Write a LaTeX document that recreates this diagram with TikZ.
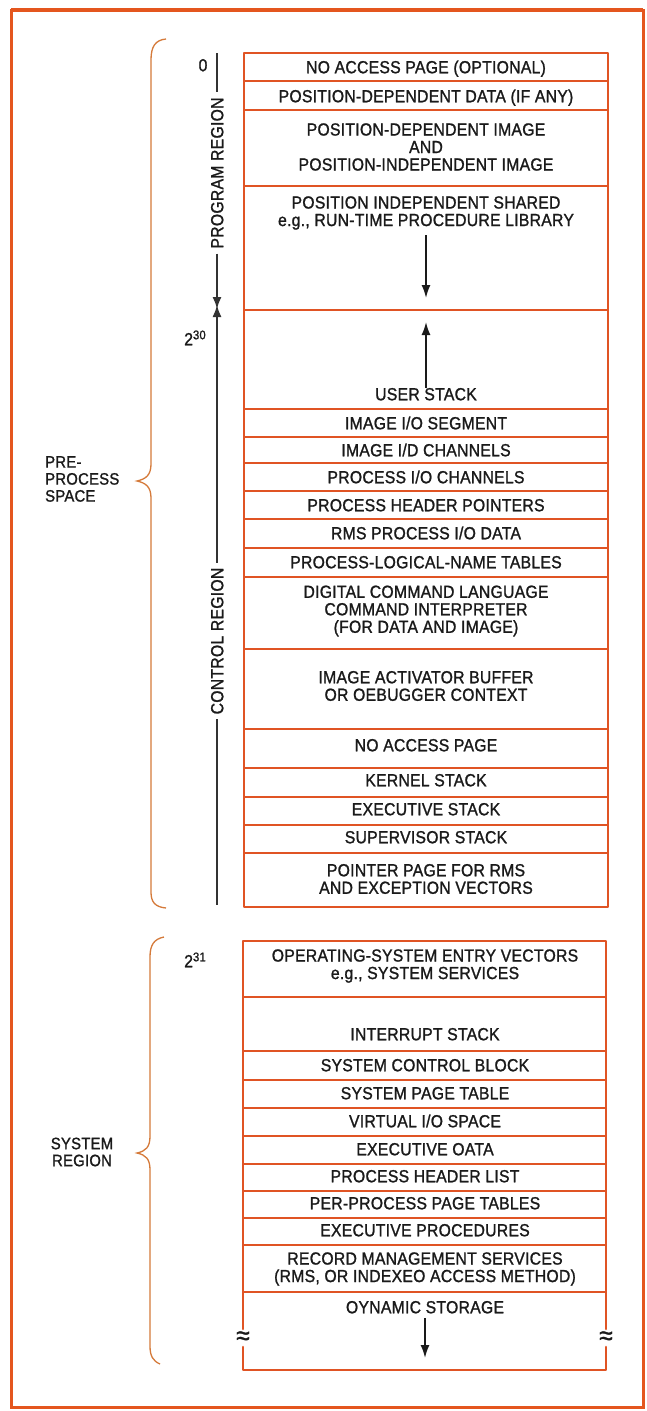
\documentclass[tikz,border=0pt]{standalone}
\usepackage{fontspec}
\setmainfont{Liberation Sans}[FakeStretch=0.9,FakeBold=1.2,LetterSpace=1.5]
\usetikzlibrary{arrows.meta}
\definecolor{framec}{HTML}{E4561E}
\definecolor{boxc}{HTML}{E05424}
\definecolor{bracec}{HTML}{D57A3A}
\definecolor{ink}{HTML}{1A1A1A}
\definecolor{axisc}{HTML}{333333}
\tikzset{
  lbl/.style={text=ink,font=\fontsize{17.5}{17.5}\selectfont,inner sep=0pt,text height=12.5pt,text depth=0pt},
  mlbl/.style={text=ink,font=\fontsize{17.5}{17.5}\selectfont,inner sep=0pt,align=center},
  sidelbl/.style={text=ink,font=\fontsize{16.5}{17}\selectfont,inner sep=0pt},
  rlbl/.style={lbl,rotate=90,outer sep=5pt},
  breakmark/.style={text=ink,inner sep=0pt,font=\fontsize{27}{27}\selectfont},
  divider/.style={draw=boxc,line width=1.8pt},
  boxedge/.style={draw=boxc,line width=2.6pt,line cap=round,line join=round},
  framebox/.style={draw=framec,line width=3pt},
  bracepath/.style={draw=bracec,line width=1.3pt},
  axisline/.style={draw=axisc,line width=1.6pt},
  arr/.style={draw=ink,line width=1.7pt,-{Latex[length=13pt,width=9pt]}},
  axarr/.style={axisline,-{Latex[length=12pt,width=9pt]}},
}
\begin{document}
\begin{tikzpicture}[x=1pt,y=-1pt]
\useasboundingbox (0,0) rectangle (646,1411);
\fill[white] (0,0) rectangle (646,1411);
% outer frame
\draw[framebox] (11,10) rectangle (643,1407);
\draw[draw=framec,line width=4pt] (11,10) -- (643,10);

% ---------- upper box ----------
\foreach \y in {81,110,186,310,409,437,463,491,519,548,577,649,729,768,797,825,853}
  \draw[divider] (244,\y) -- (608,\y);
\draw[boxedge] (244,53) rectangle (608,907);

\node[lbl] (t1) at (426,67) {NO ACCESS PAGE (OPTIONAL)};
\node[lbl] (t2) at (426,96) {POSITION-DEPENDENT DATA (IF ANY)};
\node[mlbl] (t3) at (426,147) {POSITION-DEPENDENT IMAGE\\AND\\POSITION-INDEPENDENT IMAGE};
\node[mlbl] (t4) at (426,213) {POSITION INDEPENDENT SHARED\\e.g., RUN-TIME PROCEDURE LIBRARY};
\node[lbl] (t5) at (426,394) {USER STACK};
\node[lbl] (t6) at (426,423) {IMAGE I/O SEGMENT};
\node[lbl] (t7) at (426,450) {IMAGE I/D CHANNELS};
\node[lbl] (t8) at (426,477) {PROCESS I/O CHANNELS};
\node[lbl] (t9) at (426,505) {PROCESS HEADER POINTERS};
\node[lbl] (t10) at (426,533) {RMS PROCESS I/O DATA};
\node[lbl] (t11) at (426,562) {PROCESS-LOGICAL-NAME TABLES};
\node[mlbl] (t12) at (426,611) {DIGITAL COMMAND LANGUAGE\\COMMAND INTERPRETER\\(FOR DATA AND IMAGE)};
\node[mlbl] (t13) at (426,686) {IMAGE ACTIVATOR BUFFER\\OR OEBUGGER CONTEXT};
\node[lbl] (t14) at (426,745) {NO ACCESS PAGE};
\node[lbl] (t15) at (426,780) {KERNEL STACK};
\node[lbl] (t16) at (426,809) {EXECUTIVE STACK};
\node[lbl] (t17) at (426,837) {SUPERVISOR STACK};
\node[mlbl] (t18) at (426,879) {POINTER PAGE FOR RMS\\AND EXCEPTION VECTORS};

\coordinate (a1s) at (426,235);
\coordinate (a1e) at (426,298);
\draw[arr] (a1s) -- (a1e);
\coordinate (a2e) at (426,322);
\draw[arr] (t5.north) -- (a2e);

% ---------- lower box ----------
\foreach \y in {997,1051,1080,1108,1136,1164,1191,1218,1245,1292}
  \draw[divider] (243,\y) -- (606,\y);
\draw[boxedge] (243,1329) -- (243,941) -- (606,941) -- (606,1329);
\draw[boxedge] (243,1347) -- (243,1370) -- (606,1370) -- (606,1347);
\node[breakmark] (brL) at (243,1338) {≈};
\node[breakmark] (brR) at (606,1338) {≈};

\node[mlbl] (s1) at (425,966) {OPERATING-SYSTEM ENTRY VECTORS\\e.g., SYSTEM SERVICES};
\node[lbl] (s2) at (425,1034) {INTERRUPT STACK};
\node[lbl] (s3) at (425,1065) {SYSTEM CONTROL BLOCK};
\node[lbl] (s4) at (425,1093) {SYSTEM PAGE TABLE};
\node[lbl] (s5) at (425,1121) {VIRTUAL I/O SPACE};
\node[lbl] (s6) at (425,1149) {EXECUTIVE OATA};
\node[lbl] (s7) at (425,1176) {PROCESS HEADER LIST};
\node[lbl] (s8) at (425,1203) {PER-PROCESS PAGE TABLES};
\node[lbl] (s9) at (425,1230) {EXECUTIVE PROCEDURES};
\node[mlbl] (s10) at (425,1269) {RECORD MANAGEMENT SERVICES\\(RMS, OR INDEXEO ACCESS METHOD)};
\node[lbl] (s11) at (425,1307) {OYNAMIC STORAGE};
\coordinate (a3s) at (425,1318);
\coordinate (a3e) at (425,1358);
\draw[arr] (a3s) -- (a3e);

% ---------- left axis ----------
\node[lbl] (zero) at (203,65) {0};
\node[lbl] (p30) at (195,339) {2\raisebox{6pt}{\fontsize{12.5}{12.5}\selectfont 30}};
\node[lbl] (p31) at (195,961) {2\raisebox{6pt}{\fontsize{12.5}{12.5}\selectfont 31}};
\node[rlbl] (prog) at (217,173) {PROGRAM REGION};
\node[rlbl] (ctrl) at (217,641) {CONTROL REGION};
\coordinate (axtop) at (217,53);
\coordinate (axmidA) at (217,309);
\coordinate (axmidB) at (217,305);
\coordinate (axbot) at (217,905);
\draw[axisline] (axtop) -- (prog.east);
\draw[axarr] (prog.west) -- (axmidA);
\draw[axarr] (ctrl.east) -- (axmidB);
\draw[axisline] (ctrl.west) -- (axbot);

% ---------- braces ----------
\draw[bracepath] (166,39) .. controls (155,40) and (151,47) .. (151,60)
  -- (151,464) .. controls (151,475) and (146,479) .. (137,481)
  .. controls (146,483) and (151,487) .. (151,498)
  -- (151,892) .. controls (151,902) and (155,907) .. (166,908);
\draw[bracepath] (164,937) .. controls (154,939) and (150,945) .. (150,957)
  -- (150,1136) .. controls (150,1147) and (146,1151) .. (137,1153)
  .. controls (146,1155) and (150,1159) .. (150,1170)
  -- (150,1346) .. controls (150,1356) and (153,1361) .. (160,1364);

\node[sidelbl,align=left,anchor=west] (pps) at (45,479) {PRE-\\PROCESS\\SPACE};
\node[sidelbl,align=center] (sysr) at (82,1152) {SYSTEM\\REGION};
\end{tikzpicture}
\end{document}
